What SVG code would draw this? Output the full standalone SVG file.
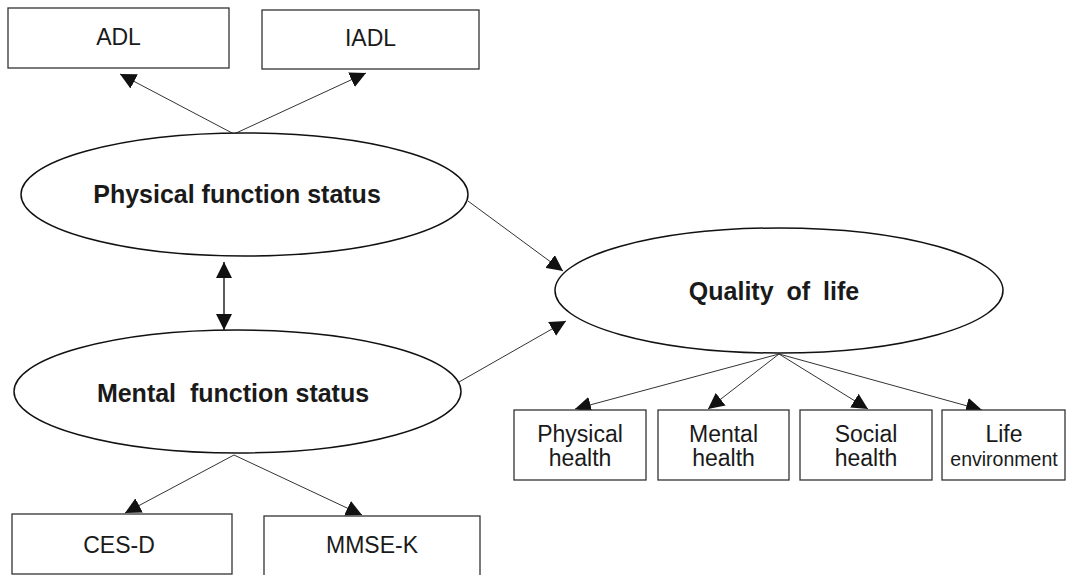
<svg xmlns="http://www.w3.org/2000/svg" width="1066" height="575" viewBox="0 0 1066 575">
  <style>
    .box { fill: #fff; stroke: #333; stroke-width: 1.3; }
    .ell { fill: #fff; stroke: #111; stroke-width: 1.5; }
    .lbl { font-family: "Liberation Sans", Arial, sans-serif; font-size: 23px; fill: #1a1a1a; text-anchor: middle; }
    .big { font-family: "Liberation Sans", Arial, sans-serif; font-size: 25px; font-weight: bold; fill: #1a1a1a; text-anchor: middle; white-space: pre; }
    .edge { stroke: #333; stroke-width: 1; fill: none; marker-end: url(#ah); }
    .dbl { stroke: #333; stroke-width: 1.6; fill: none; marker-start: url(#ahs); marker-end: url(#ah); }
  </style>
  <defs>
    <marker id="ah" viewBox="0 0 16 16" refX="16" refY="8" markerWidth="16" markerHeight="16" markerUnits="userSpaceOnUse" orient="auto">
      <path d="M0,0 L16,8 L0,16 Z" fill="#111"/>
    </marker>
    <marker id="ahs" viewBox="0 0 16 16" refX="0" refY="8" markerWidth="16" markerHeight="16" markerUnits="userSpaceOnUse" orient="auto">
      <path d="M16,0 L0,8 L16,16 Z" fill="#111"/>
    </marker>
  </defs>
  <rect width="1066" height="575" fill="#fff"/>

  <g id="connectors">
    <line class="edge" x1="234" y1="134" x2="120" y2="74"/>
    <line class="edge" x1="234" y1="134" x2="366" y2="73"/>
    <line class="dbl" x1="224" y1="262" x2="224" y2="330"/>
    <line class="edge" x1="468" y1="201" x2="563" y2="271"/>
    <line class="edge" x1="459" y1="382" x2="566" y2="321"/>
    <line class="edge" x1="234" y1="455" x2="125" y2="513"/>
    <line class="edge" x1="234" y1="455" x2="362" y2="515"/>
    <line class="edge" x1="779" y1="354" x2="575" y2="409"/>
    <line class="edge" x1="779" y1="354" x2="708" y2="409"/>
    <line class="edge" x1="779" y1="354" x2="868" y2="409"/>
    <line class="edge" x1="779" y1="354" x2="982" y2="410"/>
  </g>

  <g id="adl">
    <rect class="box" x="8" y="8" width="221" height="60"/>
    <text class="lbl" x="118.5" y="45">ADL</text>
  </g>
  <g id="iadl">
    <rect class="box" x="262" y="10" width="217" height="59"/>
    <text class="lbl" x="370.5" y="46">IADL</text>
  </g>
  <g id="physical-function">
    <ellipse class="ell" cx="244.5" cy="194.5" rx="223.5" ry="61.5"/>
    <text class="big" x="237" y="203">Physical function status</text>
  </g>
  <g id="mental-function">
    <ellipse class="ell" cx="237.5" cy="391.5" rx="223.5" ry="61.5"/>
    <text class="big" x="233" y="402">Mental  function status</text>
  </g>
  <g id="quality-of-life">
    <ellipse class="ell" cx="779" cy="290.5" rx="224" ry="62.5"/>
    <text class="big" x="774" y="300" word-spacing="6">Quality of life</text>
  </g>
  <g id="ces-d">
    <rect class="box" x="12" y="514" width="220" height="60"/>
    <text class="lbl" x="119" y="553">CES-D</text>
  </g>
  <g id="mmse-k">
    <rect class="box" x="264" y="516" width="216" height="70"/>
    <text class="lbl" x="372" y="553">MMSE-K</text>
  </g>
  <g id="physical-health">
    <rect class="box" x="514" y="410" width="132" height="70"/>
    <text class="lbl" x="580" y="442">Physical</text>
    <text class="lbl" x="580" y="466">health</text>
  </g>
  <g id="mental-health">
    <rect class="box" x="658" y="410" width="131" height="70"/>
    <text class="lbl" x="723.5" y="442">Mental</text>
    <text class="lbl" x="723.5" y="466">health</text>
  </g>
  <g id="social-health">
    <rect class="box" x="800" y="410" width="132" height="70"/>
    <text class="lbl" x="866" y="442">Social</text>
    <text class="lbl" x="866" y="466">health</text>
  </g>
  <g id="life-environment">
    <rect class="box" x="942" y="410" width="123" height="70"/>
    <text class="lbl" x="1004" y="442">Life</text>
    <text class="lbl" x="1004" y="466" style="font-size:19.5px">environment</text>
  </g>
</svg>
